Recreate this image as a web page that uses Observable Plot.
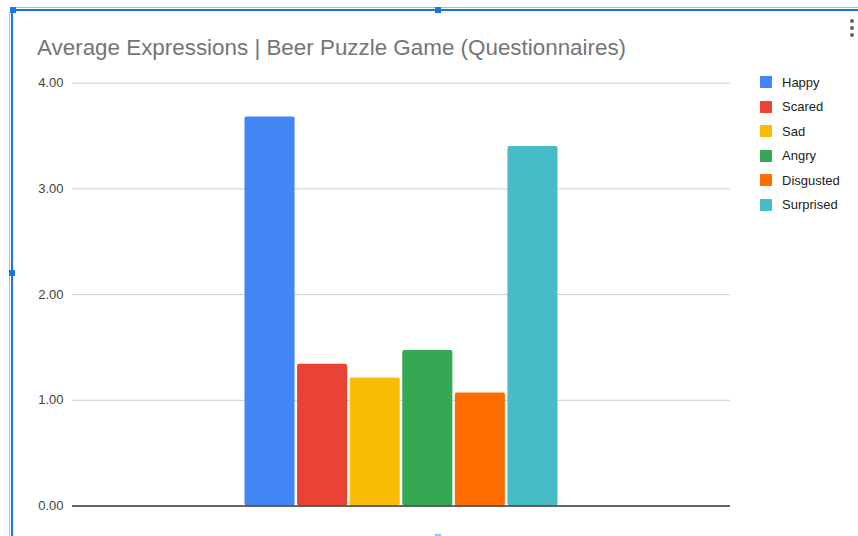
<!DOCTYPE html>
<html>
<head>
<meta charset="utf-8">
<script src="https://cdn.jsdelivr.net/npm/d3@7"></script>
<script src="https://cdn.jsdelivr.net/npm/@observablehq/plot@0.6"></script>
<style>
  html, body { margin: 0; padding: 0; background: #fff; }
  #wrap { position: relative; width: 858px; height: 536px; overflow: hidden; font-family: "Liberation Sans", Arial, sans-serif; }
  #wrap svg { position: absolute; left: 0; top: 0; }
  #title { position: absolute; left: 37px; top: 35px; font-size: 22.4px; color: #757575; white-space: nowrap; }
  #legend { position: absolute; left: 760px; top: 70px; font-size: 13px; color: #222; }
  .row { display: flex; align-items: center; height: 24.5px; }
  .sw { width: 12px; height: 12px; margin-right: 10px; border-radius: 1px; }
  .deco { position: absolute; }
</style>
</head>
<body>
<div id="wrap">
  <div class="deco" style="left:13px;top:7px;width:845px;height:1px;background:#bbb"></div>
  <div class="deco" style="left:13px;top:9px;width:845px;height:2px;background:#1a73e8"></div>
  <div class="deco" style="left:9px;top:13px;width:1px;height:523px;background:#bbb"></div>
  <div class="deco" style="left:11px;top:10px;width:2px;height:526px;background:#1a73e8"></div>
  <div class="deco" style="left:10px;top:7px;width:6px;height:6px;background:#1a73e8"></div>
  <div class="deco" style="left:435px;top:7px;width:6px;height:6px;background:#1a73e8"></div>
  <div class="deco" style="left:9px;top:270px;width:6px;height:6px;background:#1a73e8"></div>
  <div class="deco" style="left:435px;top:534px;width:6px;height:6px;background:#9ec2f5"></div>
  <div class="deco" style="left:850px;top:19px;width:4px;height:4px;border-radius:2px;background:#666"></div>
  <div class="deco" style="left:850px;top:26px;width:4px;height:4px;border-radius:2px;background:#666"></div>
  <div class="deco" style="left:850px;top:33px;width:4px;height:4px;border-radius:2px;background:#666"></div>
  <div id="title">Average Expressions | Beer Puzzle Game (Questionnaires)</div>
  <div id="legend"></div>
</div>
<script>
const categories = ["Happy", "Scared", "Sad", "Angry", "Disgusted", "Surprised"];
const values = [3.68, 1.34, 1.21, 1.47, 1.07, 3.40];
const colors = ["#4285F4", "#EA4335", "#FBBC04", "#34A853", "#FF6D01", "#46BDC6"];
const yTicks = [0, 1, 2, 3, 4];

const data = categories.map((c, i) => ({category: c, value: values[i]}));

const chart = Plot.plot({
  width: 858,
  height: 536,
  marginTop: 82.7,
  marginBottom: 30.5,
  marginLeft: 72,
  marginRight: 128,
  style: {fontFamily: "'Liberation Sans', Arial, sans-serif", fontSize: "13px", background: "transparent", overflow: "visible"},
  x: {domain: categories, paddingInner: 0.048, paddingOuter: 3.28, round: false, axis: null},
  y: {domain: [0, 4], ticks: yTicks, tickFormat: d3.format(".2f"), tickSize: 0, tickPadding: 9, label: null},
  color: {domain: categories, range: colors},
  marks: [
    Plot.ruleY(yTicks.filter(d => d > 0), {stroke: "#d0d0d0", strokeWidth: 1}),
    Plot.axisY({ticks: yTicks, tickFormat: d3.format(".2f"), tickSize: 0, tickPadding: 9, label: null, fill: "#444", fontSize: 13}),
    Plot.barY(data, {x: "category", y: "value", fill: "category", rx: 2}),
    Plot.ruleY([0], {stroke: "#333", strokeWidth: 1.5})
  ]
});
document.getElementById("wrap").insertBefore(chart, document.getElementById("title"));

const legend = document.getElementById("legend");
categories.forEach((c, i) => {
  const row = document.createElement("div");
  row.className = "row";
  const sw = document.createElement("div");
  sw.className = "sw";
  sw.style.background = colors[i];
  const t = document.createElement("span");
  t.textContent = c;
  row.appendChild(sw);
  row.appendChild(t);
  legend.appendChild(row);
});
</script>
</body>
</html>
